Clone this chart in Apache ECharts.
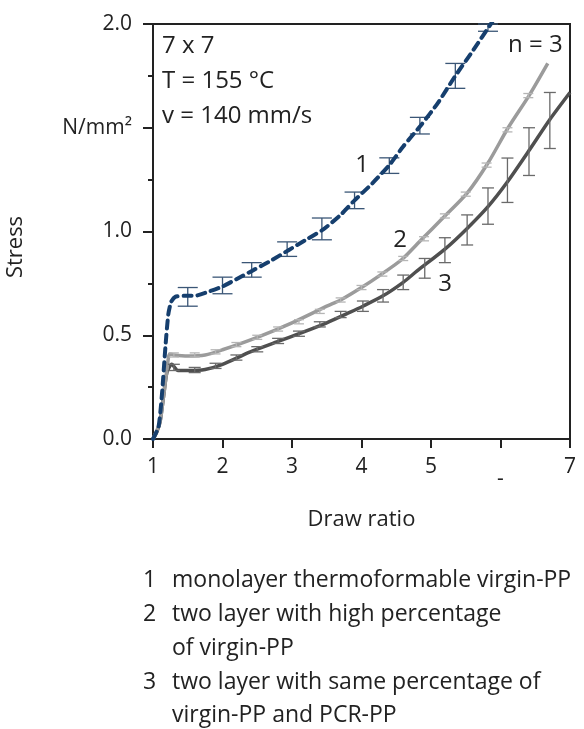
<!DOCTYPE html>
<html><head><meta charset="utf-8">
<script src="https://cdn.jsdelivr.net/npm/echarts@6/dist/echarts.min.js"></script>
<style>html,body{margin:0;padding:0;background:#fff}#c{width:584px;height:729px}</style>
</head><body><div id="c"></div>
<script>
// ---- data ----
const xTickLabels = ['1', '2', '3', '4', '5', '-', '7'];
const yTickValues = [0, 0.5, 1, 1.5, 2];
const yTickLabels = ['0.0', '0.5', '1.0', 'N/mm²', '2.0'];

const curve1X = [1.0, 1.08, 1.13, 1.18, 1.22, 1.26, 1.32, 1.45, 1.6, 1.8, 2.0, 2.2, 2.45, 2.7, 2.95, 3.2, 3.45, 3.7, 3.9, 4.15, 4.4, 4.6, 4.85, 5.1, 5.35, 5.6, 5.9];
const curve1Y = [0.0, 0.06, 0.22, 0.45, 0.6, 0.66, 0.685, 0.69, 0.69, 0.71, 0.735, 0.77, 0.815, 0.86, 0.91, 0.96, 1.01, 1.08, 1.15, 1.23, 1.32, 1.41, 1.51, 1.62, 1.75, 1.87, 2.02];
const err1X  = [1.5, 2.0, 2.42, 2.93, 3.43, 3.9, 4.4, 4.84, 5.35, 5.82];
const err1Lo = [0.64, 0.70, 0.78, 0.88, 0.96, 1.11, 1.28, 1.47, 1.69, 1.965];
const err1Hi = [0.73, 0.78, 0.85, 0.95, 1.065, 1.19, 1.355, 1.55, 1.81, 2.0];

const curve2X = [1.0, 1.04, 1.1, 1.15, 1.2, 1.24, 1.3, 1.5, 1.75, 2.0, 2.5, 3.0, 3.5, 3.7, 4.0, 4.27, 4.58, 4.86, 5.17, 5.52, 5.82, 6.11, 6.42, 6.68];
const curve2Y = [0.0, 0.03, 0.08, 0.2, 0.33, 0.41, 0.405, 0.40, 0.405, 0.43, 0.49, 0.56, 0.64, 0.67, 0.73, 0.79, 0.865, 0.96, 1.065, 1.185, 1.33, 1.50, 1.66, 1.81];
const err2X  = [1.3, 1.6, 1.9, 2.2, 2.5, 2.8, 3.1, 3.4, 3.7, 4.0, 4.3, 4.6, 4.9, 5.2, 5.5, 5.8, 6.1, 6.4];
const err2Lo = [0.395, 0.395, 0.41, 0.445, 0.48, 0.52, 0.555, 0.605, 0.66, 0.72, 0.785, 0.86, 0.955, 1.065, 1.17, 1.31, 1.48, 1.645];
const err2Hi = [0.415, 0.415, 0.43, 0.465, 0.50, 0.54, 0.575, 0.625, 0.68, 0.74, 0.805, 0.88, 0.975, 1.085, 1.19, 1.33, 1.50, 1.665];

const curve3X = [1.0, 1.05, 1.1, 1.15, 1.2, 1.27, 1.36, 1.5, 1.75, 2.0, 2.4, 2.8, 3.12, 3.5, 3.83, 4.02, 4.31, 4.6, 4.8, 5.2, 5.52, 5.82, 6.09, 6.41, 6.71, 7.0];
const curve3Y = [0.0, 0.03, 0.08, 0.2, 0.32, 0.36, 0.33, 0.33, 0.335, 0.36, 0.42, 0.47, 0.51, 0.56, 0.61, 0.64, 0.69, 0.755, 0.81, 0.915, 1.015, 1.12, 1.235, 1.39, 1.54, 1.67];
const err3X  = [1.3, 1.6, 1.9, 2.2, 2.5, 2.8, 3.1, 3.4, 3.7, 4.02, 4.31, 4.6, 4.91, 5.2, 5.52, 5.82, 6.1, 6.41, 6.71];
const err3Lo = [0.33, 0.32, 0.34, 0.38, 0.42, 0.46, 0.495, 0.54, 0.585, 0.615, 0.66, 0.72, 0.775, 0.85, 0.935, 1.035, 1.14, 1.27, 1.40];
const err3Hi = [0.36, 0.345, 0.365, 0.405, 0.445, 0.485, 0.52, 0.565, 0.615, 0.665, 0.72, 0.79, 0.87, 0.97, 1.08, 1.21, 1.354, 1.50, 1.67];

const legendNums = ['1', '2', '', '3', ''];
const legendLines = [
  'monolayer thermoformable virgin-PP',
  'two layer with high percentage',
  'of virgin-PP',
  'two layer with same percentage of',
  'virgin-PP and PCR-PP'
];
const infoLines = ['7 x 7', 'T = 155 °C', 'v = 140 mm/s'];
const curveLabels = ['1', '2', '3'];

// ---- build ----
const FONT = '"Open Sans", "Noto Sans", sans-serif';
const zip = (a, b) => a.map((v, i) => [v, b[i]]);
const zip3 = (a, b, c) => a.map((v, i) => [v, b[i], c[i]]);

function errRender(capW, color, lw) {
  return function (params, api) {
    const x = api.value(0), lo = api.value(1), hi = api.value(2);
    const p1 = api.coord([x, lo]), p2 = api.coord([x, hi]);
    const h = capW / 2;
    const st = { stroke: color, lineWidth: lw };
    return { type: 'group', children: [
      { type: 'line', shape: { x1: p1[0], y1: p1[1], x2: p2[0], y2: p2[1] }, style: st },
      { type: 'line', shape: { x1: p1[0] - h, y1: p1[1], x2: p1[0] + h, y2: p1[1] }, style: st },
      { type: 'line', shape: { x1: p2[0] - h, y1: p2[1], x2: p2[0] + h, y2: p2[1] }, style: st }
    ]};
  };
}

const chart = echarts.init(document.getElementById('c'), null, { renderer: 'canvas' });

function txt(t, x, y, size, align, rot) {
  return { type: 'text', x: x, y: y, rotation: rot || 0, z: 10,
    style: { text: t, font: size + 'px ' + FONT, fill: '#222', align: align || 'left', verticalAlign: 'middle' } };
}
const graphics = [];
const infoY = [46, 81, 116];
infoLines.forEach((t, i) => graphics.push(txt(t, 162, infoY[i], 24)));
graphics.push(txt('n = 3', 508, 45, 24));
const clPos = [[362, 165], [400, 240], [445, 284]];
curveLabels.forEach((t, i) => graphics.push(txt(t, clPos[i][0], clPos[i][1], 24, 'center')));
graphics.push(txt('Stress', 16, 247, 22, 'center', Math.PI / 2));
const legY = [580, 614, 648, 682, 715];
legendLines.forEach((t, i) => {
  if (legendNums[i]) graphics.push(txt(legendNums[i], 143, legY[i], 23));
  graphics.push(txt(t, 172, legY[i], 23));
});

chart.setOption({
  animation: false,
  backgroundColor: '#fff',
  grid: { left: 153, right: 14, top: 24, bottom: 290, show: true, borderColor: '#222', borderWidth: 2, backgroundColor: 'transparent' },
  xAxis: {
    type: 'value', min: 1, max: 7, interval: 1,
    name: 'Draw ratio', nameLocation: 'middle', nameGap: 70,
    nameTextStyle: { fontFamily: FONT, fontSize: 22, color: '#222' },
    axisLine: { lineStyle: { color: '#222', width: 2 } },
    axisTick: { show: true, length: 9, lineStyle: { color: '#222', width: 2 } },
    splitLine: { show: false },
    axisLabel: { margin: 18, fontFamily: FONT, fontSize: 21, color: '#222',
      formatter: v => { const s = xTickLabels[Math.round(v) - 1]; return s === '-' ? '{d|-}' : s; },
      rich: { d: { fontFamily: FONT, fontSize: 21, color: '#222', padding: [12, 0, 0, 0] } } }
  },
  yAxis: {
    type: 'value', min: 0, max: 2, interval: 0.5,
    axisLine: { show: true, lineStyle: { color: '#222', width: 2 } },
    axisTick: { show: true, length: 10, lineStyle: { color: '#222', width: 2 } },
    minorTick: { show: true, splitNumber: 2, length: 5, lineStyle: { color: '#222', width: 2 } },
    splitLine: { show: false },
    axisLabel: { margin: 21, fontFamily: FONT, fontSize: 21, color: '#222',
      formatter: v => { const i = yTickValues.findIndex(t => Math.abs(t - v) < 1e-6); return i >= 0 ? yTickLabels[i] : ''; } }
  },
  graphic: graphics,
  series: [
    { type: 'line', data: zip(curve3X, curve3Y), showSymbol: false, smooth: 0.25, z: 2,
      lineStyle: { color: '#4f4f4f', width: 3.5 } },
    { type: 'custom', data: zip3(err3X, err3Lo, err3Hi), renderItem: errRender(12, '#6a6a6a', 1.3), z: 3,
      encode: { x: 0, y: [1, 2] } },
    { type: 'line', data: zip(curve2X, curve2Y), showSymbol: false, smooth: 0.25, z: 2,
      lineStyle: { color: '#9b9b9b', width: 3.5 } },
    { type: 'custom', data: zip3(err2X, err2Lo, err2Hi), renderItem: errRender(10, '#b5b5b5', 1.3), z: 3,
      encode: { x: 0, y: [1, 2] } },
    { type: 'custom', data: zip3(err1X, err1Lo, err1Hi), renderItem: errRender(20, '#3a5676', 1.3), z: 4,
      encode: { x: 0, y: [1, 2] } },
    { type: 'line', data: zip(curve1X, curve1Y), showSymbol: false, smooth: 0.2, z: 5,
      lineStyle: { color: '#163f6e', width: 4, type: [8, 6], cap: 'round' } }
  ]
});
</script></body></html>
